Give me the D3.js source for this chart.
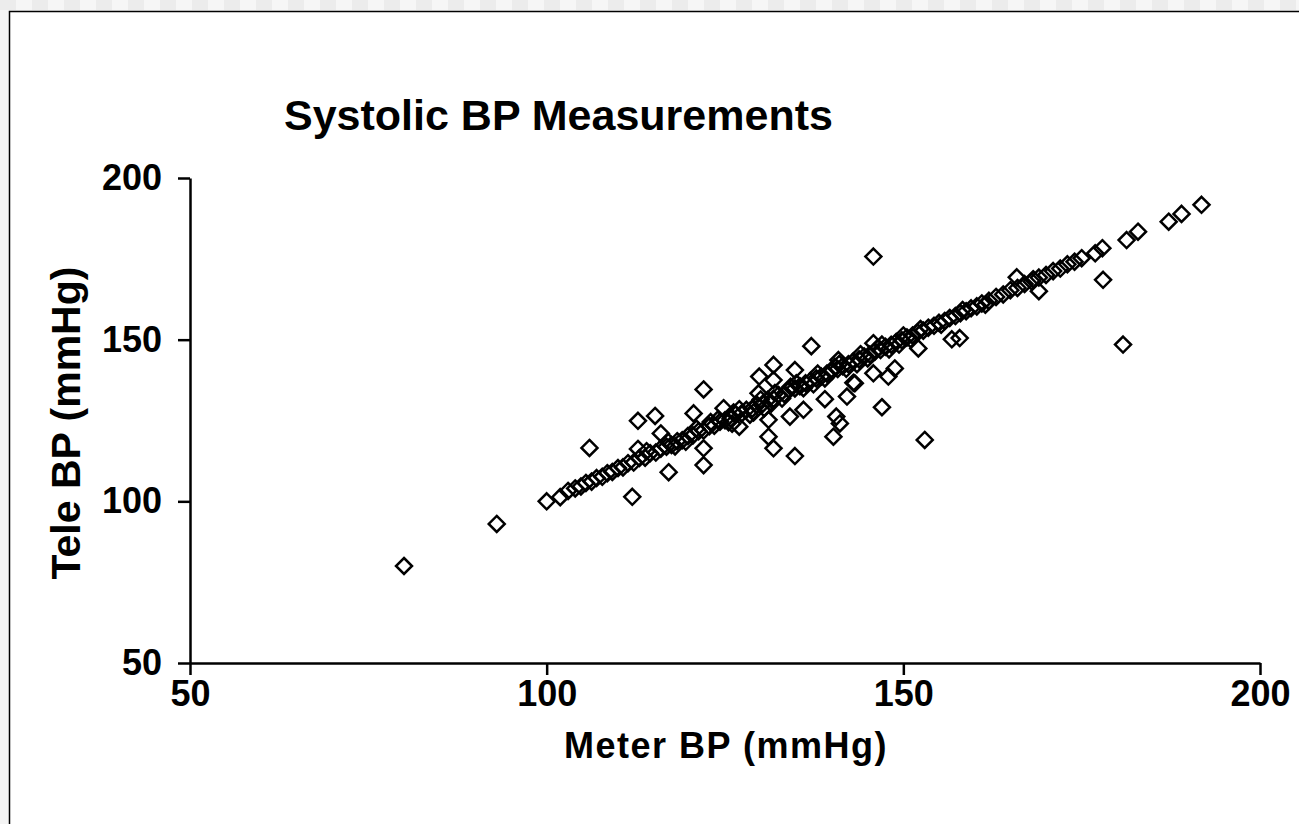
<!DOCTYPE html>
<html>
<head>
<meta charset="utf-8">
<script src="https://cdn.jsdelivr.net/npm/d3@7"></script>
<style>
  html, body { margin: 0; padding: 0; background: #f4f4f4; }
  svg { display: block; }
  text { font-family: "Liberation Sans", Arial, sans-serif; font-weight: bold; fill: #000; }
</style>
</head>
<body>
<svg id="chart" width="1299" height="824"></svg>
<script>
// ---- data ----
const chartTitle = "Systolic BP Measurements";
const xTitle = "Meter BP (mmHg)";
const yTitle = "Tele BP (mmHg)";
const xTicks = [50, 100, 150, 200];
const yTicks = [50, 100, 150, 200];

// Meter BP readings (x)
const meterBP = [
  80, 93,
  100, 101.9, 103, 104, 104.8, 105.5, 106.3, 107, 107.8, 108.5, 109.2, 110, 110.7, 111.4, 112.2, 113, 113.8, 114.5,
  115.3, 116, 116.8, 117.5, 118.3, 119, 119.8, 120.5, 121.3, 122, 122.8, 123.5, 124.3, 125, 125.8, 126.5, 127.3, 128,
  128.8, 129.5, 130.3, 131, 131.8, 132.5, 133.3, 134, 134.8, 135.5, 136.3, 137, 137.8, 138.5, 139.3, 140, 140.8, 141.5,
  142.3, 143, 143.8, 144.5, 145.3, 146, 146.8, 147.5, 148.3, 149, 149.8, 150.5, 151.3, 152, 152.8, 153.5, 154.3, 155,
  155.8, 156.5, 157.3, 158, 158.8, 159.5, 160.3, 161, 162, 163, 164, 165, 166, 167, 168, 169, 170, 171, 172, 173, 174,
  121, 123, 125.5, 127, 129, 130, 132, 133, 135, 136, 138, 139, 141, 142, 144, 145, 147, 148, 150, 151, 126, 128.5, 130.5, 118, 117, 114,
  119.5, 124, 126.2, 131.5, 134.2, 137.4, 140.4, 143.5, 146.4, 149.4, 152.4, 155.3, 158.3, 161.5,
  106, 112, 112.8, 115.2, 116, 117.1, 122, 122, 122, 112.8, 120.6, 124.8, 127,
  137.1, 131.8, 129.8, 131.8, 134.8, 129.7, 131.1, 134.1, 136, 131.1, 131.8, 134.8, 139, 142.1, 140.6, 141.1, 140.2, 143.2,
  147, 145.8, 147.9, 148.8, 145.8, 140.9, 153, 143,
  191.8, 189, 187.2, 182.9, 181.3, 178, 180.8, 177.9, 176.9, 175, 165.9, 169, 168.2, 156.8, 157.9, 152.1, 145.8
];
// Tele BP readings (y)
const teleBP = [
  80, 93,
  100, 101.3, 103.2, 104, 104.6, 105.7, 106.1, 107.2, 107.6, 108.7, 109.1, 110.3, 110.5, 111.8, 112, 113.4, 113.5, 114.9,
  115.1, 116.3, 116.9, 117.4, 118.6, 118.9, 120.2, 120.4, 121.7, 121.9, 123.2, 123.4, 124.6, 125.1, 125.6, 126.9, 127.1, 128.3,
  128.6, 129.8, 130.2, 131.4, 131.7, 132.9, 133.2, 134.4, 134.9, 135.6, 136.5, 137.3, 138, 138.6, 139.5, 140.3, 140.9, 141.8,
  142.4, 143.3, 143.9, 144.8, 145.4, 146.3, 146.8, 147.8, 148.4, 149.3, 149.8, 150.7, 151.3, 152.2, 152.8, 153.7, 154.3, 155.2,
  155.8, 156.7, 157.3, 158.2, 158.8, 159.7, 160.3, 161.2, 162, 163.2, 164, 165.3, 166, 167.2, 168, 169.2, 170, 171.2, 172, 173.3, 174.1,
  122.5, 124.5, 124.5, 128.5, 127.5, 131.5, 133.5, 131.8, 136.5, 135, 139.5, 138, 142.5, 141, 145.5, 144.2, 148.5, 147, 151.3, 150.2, 124, 126.8, 128.8, 117, 118.5, 115.5,
  118.4, 125.3, 127.5, 130.3, 135.4, 136.2, 141.6, 142.4, 147.4, 148.5, 153.3, 154.6, 159.2, 160.8,
  116.5, 101.4, 124.9, 126.4, 121, 109, 134.6, 116.4, 111.2, 116.2, 127.2, 128.8, 123.1,
  148, 142.2, 138.6, 137.5, 140.6, 133.4, 125.2, 126.2, 128.3, 120, 116.4, 114, 131.6, 132.4, 126.2, 124.1, 120, 136.5,
  129.1, 139.6, 138.6, 141.1, 148.9, 143.7, 119, 136.7,
  191.7, 188.9, 186.5, 183.4, 180.8, 168.5, 148.5, 178.3, 176.7, 175.2, 169.3, 165, 168.7, 150.1, 150.5, 147.3, 175.7
];

// ---- drawing ----
const svg = d3.select("#chart");
const W = 1299, H = 824;

// page background with checkered top strip
svg.append("rect").attr("width", W).attr("height", H).attr("fill", "#f4f4f4");
const checks = d3.range(0, Math.ceil(W / 16));
svg.selectAll("rect.chk").data(checks).join("rect")
  .attr("class", "chk")
  .attr("x", d => d * 16).attr("y", 0)
  .attr("width", 16).attr("height", 10)
  .attr("fill", d => d % 2 ? "#f6f6f6" : "#ececec");

// chart area box
svg.append("rect")
  .attr("x", 9.5).attr("y", 11.5)
  .attr("width", 1400).attr("height", 900)
  .attr("fill", "#fff").attr("stroke", "#000").attr("stroke-width", 1.5);

const x = d3.scaleLinear().domain([50, 200]).range([190, 1260]);
const y = d3.scaleLinear().domain([50, 200]).range([663, 178]);

// axes
const xAxis = d3.axisBottom(x).tickValues(xTicks).tickSize(12).tickSizeOuter(0).tickPadding(5);
const yAxis = d3.axisLeft(y).tickValues(yTicks).tickSize(12).tickSizeOuter(0).tickPadding(16);

const gx = svg.append("g").attr("transform", `translate(0,${y(50)})`).call(xAxis);
const gy = svg.append("g").attr("transform", `translate(${x(50)},0)`).call(yAxis);
[gx, gy].forEach(g => {
  g.select(".domain").attr("stroke", "#000").attr("stroke-width", 2.5);
  g.selectAll(".tick line").attr("stroke", "#000").attr("stroke-width", 2.5);
  g.selectAll(".tick text")
    .style("font-family", '"Liberation Sans", Arial, sans-serif')
    .style("font-weight", "bold").style("font-size", "36px").attr("fill", "#000");
});

// diamond symbol
const diamond = {
  draw(ctx, size) {
    const r = Math.sqrt(size / 2);
    ctx.moveTo(0, -r); ctx.lineTo(r, 0); ctx.lineTo(0, r); ctx.lineTo(-r, 0); ctx.closePath();
  }
};
const sym = d3.symbol().type(diamond).size(2 * 8 * 8);

const pts = meterBP.map((m, i) => ({ m, t: teleBP[i] }));
svg.append("g").selectAll("path").data(pts).join("path")
  .attr("transform", d => `translate(${x(d.m)},${y(d.t)})`)
  .attr("d", sym)
  .attr("fill", "none").attr("stroke", "#000").attr("stroke-width", 2.5);

// titles
svg.append("text").attr("x", 284).attr("y", 130)
  .style("font-size", "43px").text(chartTitle);

svg.append("text").attr("x", 726).attr("y", 758)
  .attr("text-anchor", "middle")
  .style("font-size", "36px").style("letter-spacing", "1.5px").text(xTitle);

svg.append("text")
  .attr("transform", `translate(80,423) rotate(-90)`)
  .attr("text-anchor", "middle")
  .style("font-size", "41px").text(yTitle);
</script>
</body>
</html>
